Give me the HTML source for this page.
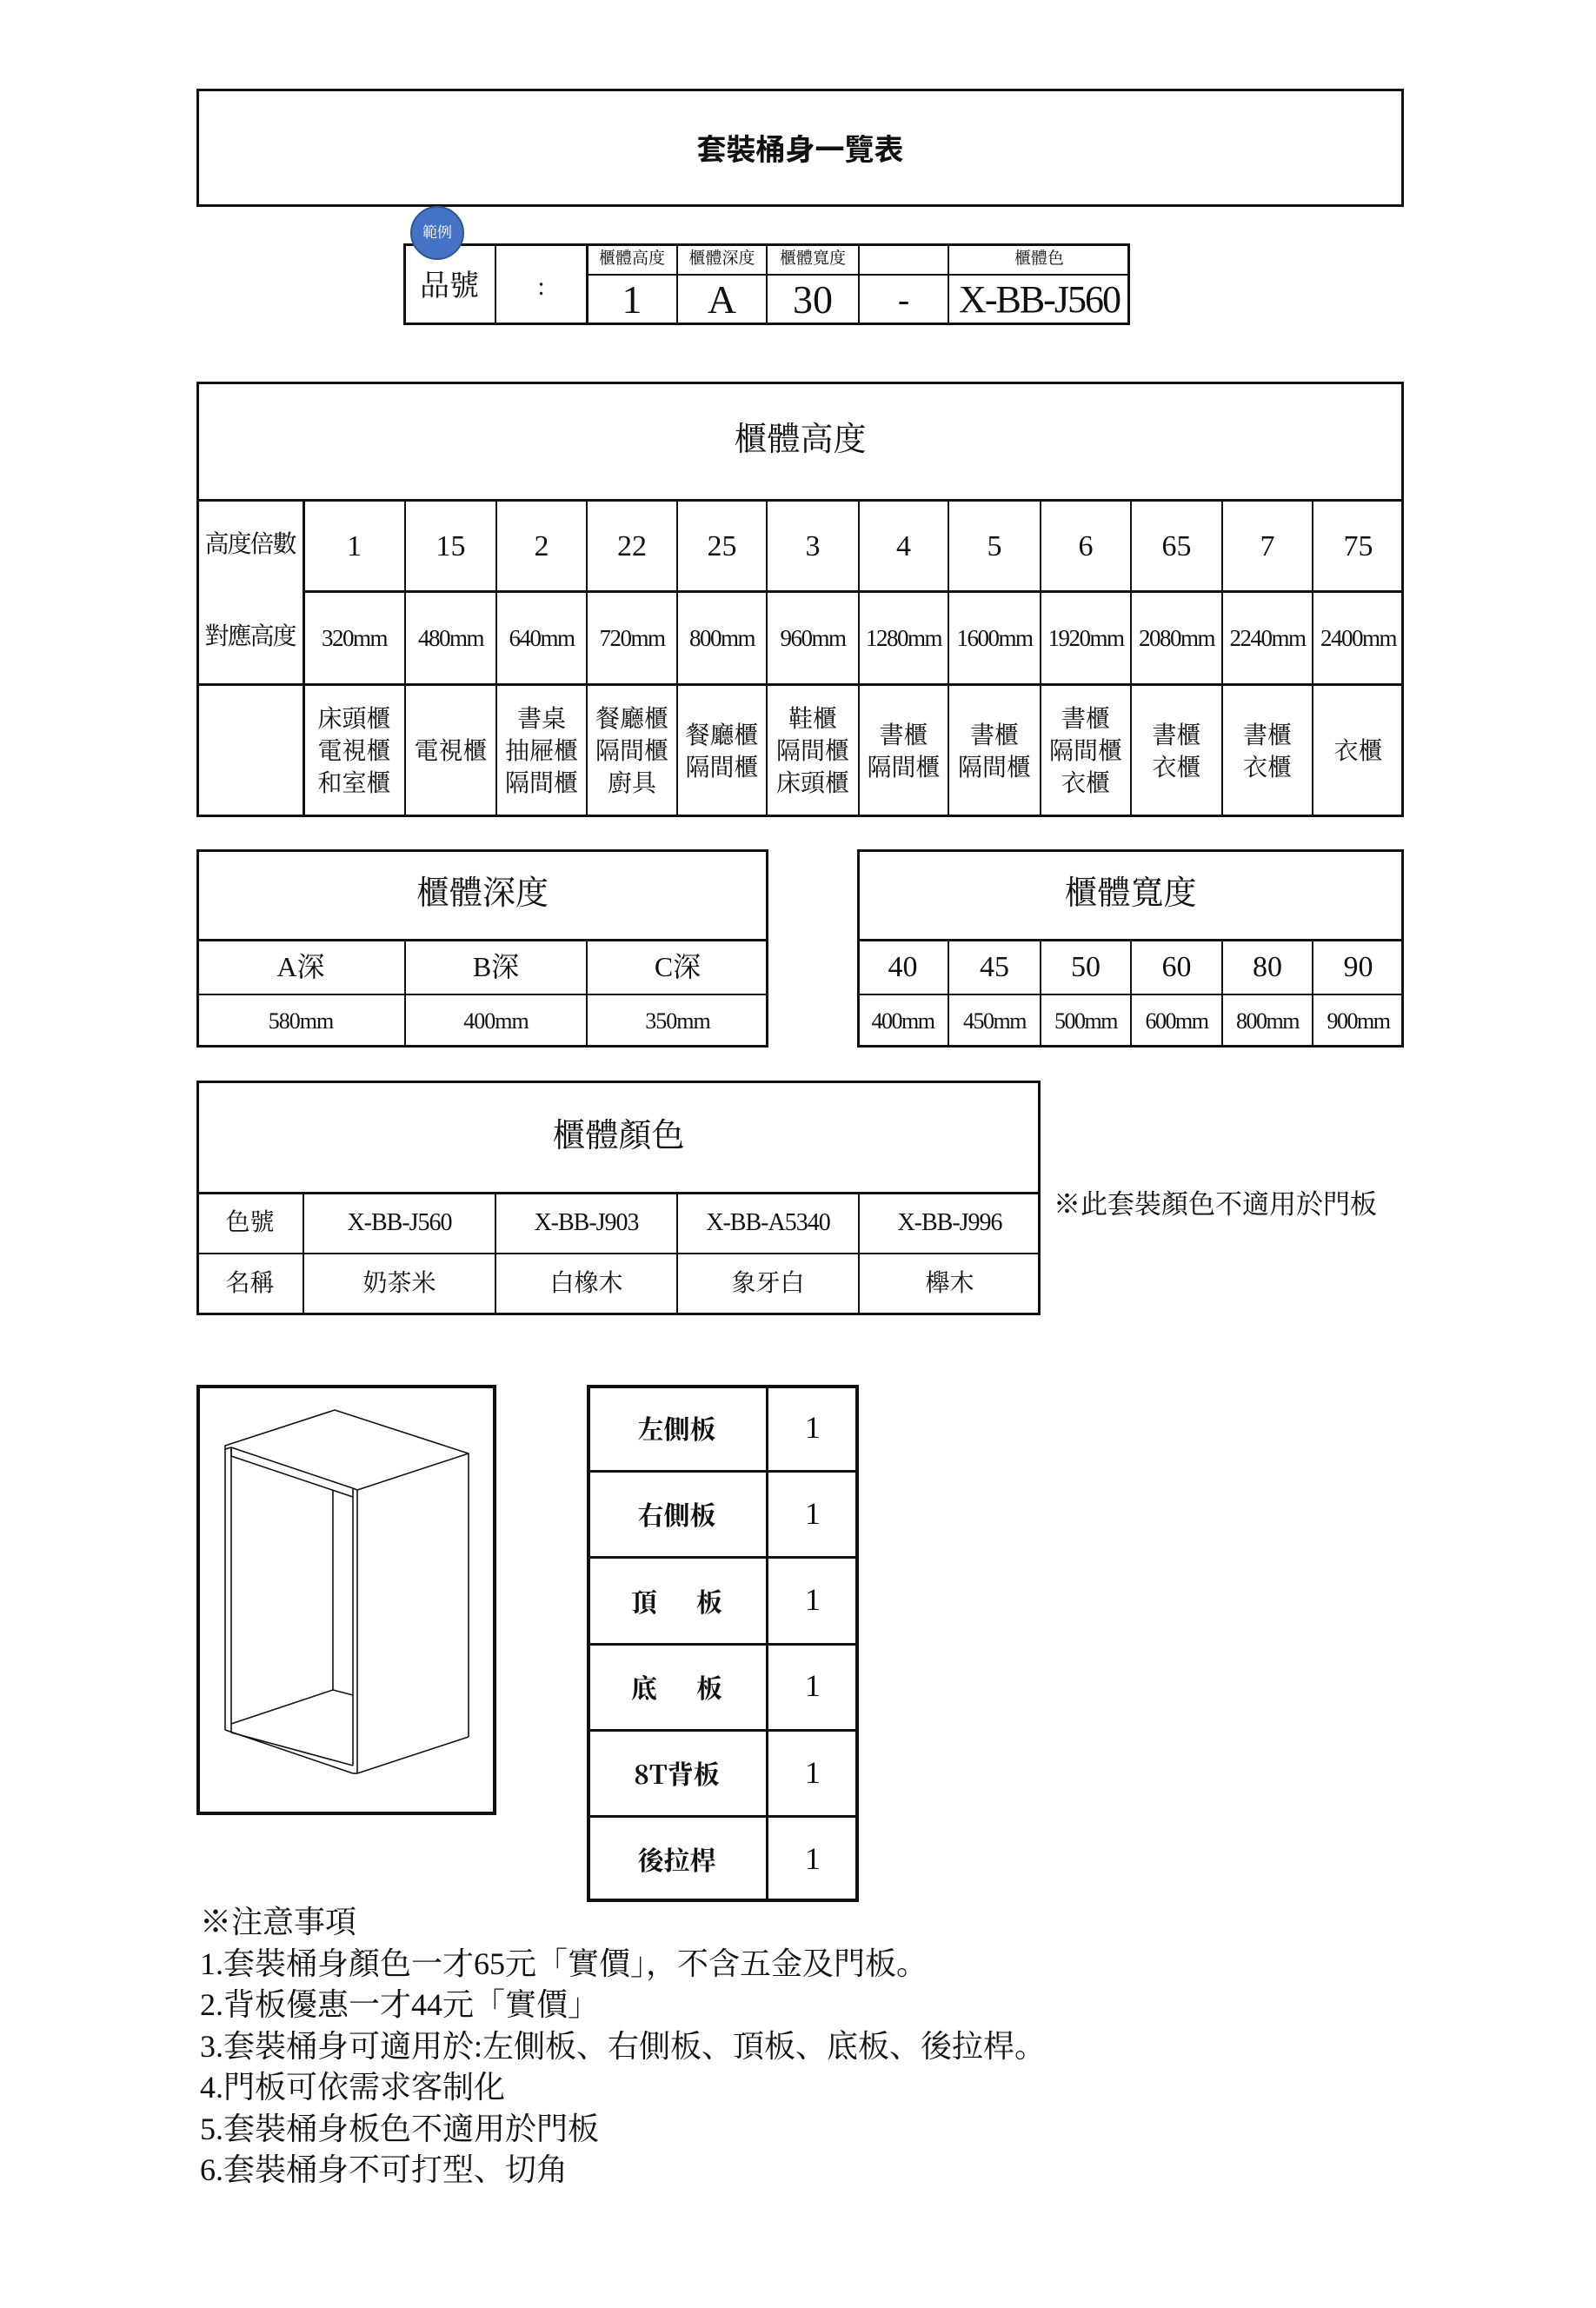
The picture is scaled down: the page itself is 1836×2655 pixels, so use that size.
<!DOCTYPE html>
<html><head><meta charset="utf-8"><style>
body{margin:0;background:#fff;}
#p{position:relative;width:1836px;height:2655px;overflow:hidden;font-family:"Liberation Serif","Noto Serif CJK SC","Noto Sans CJK TC",serif;color:#111;}
.b{position:absolute;border:3px solid #111;box-sizing:border-box;}
.t{position:absolute;display:flex;align-items:center;justify-content:center;text-align:center;box-sizing:border-box;line-height:1.15;}
.h{position:absolute;background:#111;}
.v{position:absolute;background:#111;}
</style></head><body><div id="p">
<!-- Title -->
<div class="b" style="left:226px;top:102px;width:1389px;height:136px"></div>
<div class="t" style="left:226px;top:102px;width:1389px;height:136px;font-size:34px;font-weight:bold;font-family:'Noto Sans CJK TC',sans-serif">套裝桶身一覽表</div>

<!-- example -->
<div class="b" style="left:464px;top:280px;width:836px;height:94px"></div>
<div class="h" style="left:675px;top:315px;width:625px;height:2px"></div>
<div class="v" style="left:569px;top:280px;width:2px;height:94px"></div>
<div class="v" style="left:674px;top:280px;width:3px;height:94px"></div>
<div class="v" style="left:778px;top:280px;width:2px;height:94px"></div>
<div class="v" style="left:881px;top:280px;width:2px;height:94px"></div>
<div class="v" style="left:987px;top:280px;width:2px;height:94px"></div>
<div class="v" style="left:1090px;top:280px;width:2px;height:94px"></div>
<div class="t" style="left:464px;top:295px;width:106px;height:70px;font-size:34px">品號</div>
<div class="t" style="left:570px;top:295px;width:105px;height:70px;font-size:30px">:</div>
<div class="t" style="left:675px;top:280px;width:104px;height:36px;font-size:19px">櫃體高度</div>
<div class="t" style="left:779px;top:280px;width:103px;height:36px;font-size:19px">櫃體深度</div>
<div class="t" style="left:882px;top:280px;width:106px;height:36px;font-size:19px">櫃體寬度</div>
<div class="t" style="left:1091px;top:280px;width:209px;height:36px;font-size:19px">櫃體色</div>
<div class="t" style="left:675px;top:316px;width:104px;height:58px;font-size:46px">1</div>
<div class="t" style="left:779px;top:316px;width:103px;height:58px;font-size:46px">A</div>
<div class="t" style="left:882px;top:316px;width:106px;height:58px;font-size:46px">30</div>
<div class="t" style="left:988px;top:316px;width:103px;height:58px;font-size:40px">-</div>
<div class="t" style="left:1091px;top:316px;width:209px;height:58px;font-size:44px;letter-spacing:-2px">X-BB-J560</div>
<div style="position:absolute;left:472px;top:237px;width:62px;height:62px;border-radius:50%;background:#4472C4;border:2px solid #2f5597;box-sizing:border-box"></div>
<div class="t" style="left:472px;top:237px;width:62px;height:62px;font-size:17px;color:#fff">範例</div>

<!-- height table -->
<div class="b" style="left:226px;top:439px;width:1389px;height:501px"></div>
<div class="t" style="left:226px;top:439px;width:1389px;height:136px;font-size:38px">櫃體高度</div>
<div class="h" style="left:226px;top:574px;width:1389px;height:3px"></div>
<div class="h" style="left:349px;top:679px;width:1266px;height:3px"></div>
<div class="h" style="left:226px;top:786px;width:1389px;height:3px"></div>
<div class="v" style="left:348px;top:575px;width:3px;height:365px"></div>
<div class="v" style="left:465px;top:575px;width:2px;height:365px"></div>
<div class="v" style="left:570px;top:575px;width:2px;height:365px"></div>
<div class="v" style="left:674px;top:575px;width:2px;height:365px"></div>
<div class="v" style="left:778px;top:575px;width:2px;height:365px"></div>
<div class="v" style="left:881px;top:575px;width:2px;height:365px"></div>
<div class="v" style="left:987px;top:575px;width:2px;height:365px"></div>
<div class="v" style="left:1090px;top:575px;width:2px;height:365px"></div>
<div class="v" style="left:1196px;top:575px;width:2px;height:365px"></div>
<div class="v" style="left:1300px;top:575px;width:2px;height:365px"></div>
<div class="v" style="left:1405px;top:575px;width:2px;height:365px"></div>
<div class="v" style="left:1509px;top:575px;width:2px;height:365px"></div>
<div class="t" style="left:226px;top:575px;width:123px;height:105px;font-size:28px;letter-spacing:-2px">高度倍數</div>
<div class="t" style="left:226px;top:680px;width:123px;height:107px;font-size:28px;letter-spacing:-2px">對應高度</div>
<div id="hr"></div>

<!-- depth -->
<div class="b" style="left:226px;top:977px;width:658px;height:228px"></div>
<div class="t" style="left:226px;top:977px;width:658px;height:104px;font-size:38px">櫃體深度</div>
<div class="h" style="left:226px;top:1080px;width:658px;height:3px"></div>
<div class="h" style="left:226px;top:1143px;width:658px;height:2px"></div>
<div class="v" style="left:465px;top:1081px;width:2px;height:124px"></div>
<div class="v" style="left:674px;top:1081px;width:2px;height:124px"></div>
<div class="t" style="left:226px;top:1081px;width:240px;height:63px;font-size:32px">A深</div>
<div class="t" style="left:466px;top:1081px;width:209px;height:63px;font-size:32px">B深</div>
<div class="t" style="left:675px;top:1081px;width:209px;height:63px;font-size:32px">C深</div>
<div class="t" style="left:226px;top:1144px;width:240px;height:61px;font-size:26px;letter-spacing:-1px">580mm</div>
<div class="t" style="left:466px;top:1144px;width:209px;height:61px;font-size:26px;letter-spacing:-1px">400mm</div>
<div class="t" style="left:675px;top:1144px;width:209px;height:61px;font-size:26px;letter-spacing:-1px">350mm</div>

<!-- width -->
<div class="b" style="left:986px;top:977px;width:629px;height:228px"></div>
<div class="t" style="left:986px;top:977px;width:629px;height:104px;font-size:38px">櫃體寬度</div>
<div class="h" style="left:986px;top:1080px;width:629px;height:3px"></div>
<div class="h" style="left:986px;top:1143px;width:629px;height:2px"></div>
<div id="wr"></div>

<!-- color -->
<div class="b" style="left:226px;top:1243px;width:971px;height:270px"></div>
<div class="t" style="left:226px;top:1243px;width:971px;height:129px;font-size:38px">櫃體顏色</div>
<div class="h" style="left:226px;top:1371px;width:971px;height:3px"></div>
<div class="h" style="left:226px;top:1441px;width:971px;height:2px"></div>
<div class="v" style="left:348px;top:1372px;width:2px;height:141px"></div>
<div class="v" style="left:569px;top:1372px;width:2px;height:141px"></div>
<div class="v" style="left:778px;top:1372px;width:2px;height:141px"></div>
<div class="v" style="left:987px;top:1372px;width:2px;height:141px"></div>
<div class="t" style="left:226px;top:1372px;width:123px;height:70px;font-size:28px">色號</div>
<div class="t" style="left:349px;top:1372px;width:221px;height:70px;font-size:28px;letter-spacing:-1px">X-BB-J560</div>
<div class="t" style="left:570px;top:1372px;width:209px;height:70px;font-size:28px;letter-spacing:-1px">X-BB-J903</div>
<div class="t" style="left:779px;top:1372px;width:209px;height:70px;font-size:28px;letter-spacing:-1px">X-BB-A5340</div>
<div class="t" style="left:988px;top:1372px;width:209px;height:70px;font-size:28px;letter-spacing:-1px">X-BB-J996</div>
<div class="t" style="left:226px;top:1442px;width:123px;height:71px;font-size:28px">名稱</div>
<div class="t" style="left:349px;top:1442px;width:221px;height:71px;font-size:28px">奶茶米</div>
<div class="t" style="left:570px;top:1442px;width:209px;height:71px;font-size:28px">白橡木</div>
<div class="t" style="left:779px;top:1442px;width:209px;height:71px;font-size:28px">象牙白</div>
<div class="t" style="left:988px;top:1442px;width:209px;height:71px;font-size:28px">櫸木</div>
<div style="position:absolute;left:1212px;top:1360px;font-size:31px;white-space:nowrap">※此套裝顏色不適用於門板</div>

<!-- drawing -->
<div class="b" style="left:226px;top:1593px;width:345px;height:495px;border-width:4px"></div>
<svg style="position:absolute;left:226px;top:1593px" width="345" height="495" viewBox="0 0 345 495">
<g fill="none" stroke="#111" stroke-width="1.6" stroke-linejoin="round">
<polygon points="33,70 159,29 313,79 185,121 180,119 40,72 33,74"/>
<line x1="40" y1="72" x2="40" y2="82"/>
<line x1="40" y1="82" x2="180" y2="129"/>
<line x1="180" y1="119" x2="180" y2="438"/>
<line x1="185" y1="121" x2="185" y2="447"/>
<line x1="313" y1="79" x2="313" y2="405"/>
<line x1="313" y1="405" x2="185" y2="447"/>
<line x1="33" y1="74" x2="33" y2="397"/>
<line x1="40" y1="72" x2="40" y2="400"/>
<line x1="33" y1="397" x2="180" y2="447"/>
<line x1="180" y1="447" x2="185" y2="447"/>
<line x1="40" y1="400" x2="180" y2="438"/>
<line x1="40" y1="390" x2="157" y2="351"/>
<line x1="157" y1="121" x2="157" y2="351"/>
<line x1="157" y1="351" x2="180" y2="357"/>
</g></svg>

<!-- parts -->
<div class="b" style="left:675px;top:1593px;width:313px;height:595px;border-width:4px"></div>
<div class="v" style="left:881px;top:1593px;width:3px;height:595px"></div>
<div id="pr"></div>

<!-- notes -->
<div style="position:absolute;left:230px;top:2188px;font-size:36px;line-height:47.5px;white-space:nowrap">
※注意事項<br>1.套裝桶身顏色一才65元「實價」，不含五金及門板。<br>2.背板優惠一才44元「實價」<br>3.套裝桶身可適用於:左側板、右側板、頂板、底板、後拉桿。<br>4.門板可依需求客制化<br>5.套裝桶身板色不適用於門板<br>6.套裝桶身不可打型、切角</div>
</div>
<script>
var P=document.getElementById('p');
function add(h){P.insertAdjacentHTML('beforeend',h);}
var cx=[349,466,571,675,779,882,988,1091,1197,1301,1406,1510,1615];
var n=['1','15','2','22','25','3','4','5','6','65','7','75'];
var mm=['320mm','480mm','640mm','720mm','800mm','960mm','1280mm','1600mm','1920mm','2080mm','2240mm','2400mm'];
var u=['床頭櫃<br>電視櫃<br>和室櫃','電視櫃','書桌<br>抽屜櫃<br>隔間櫃','餐廳櫃<br>隔間櫃<br>廚具','餐廳櫃<br>隔間櫃','鞋櫃<br>隔間櫃<br>床頭櫃','書櫃<br>隔間櫃','書櫃<br>隔間櫃','書櫃<br>隔間櫃<br>衣櫃','書櫃<br>衣櫃','書櫃<br>衣櫃','衣櫃'];
for(var i=0;i<12;i++){var l=cx[i],w=cx[i+1]-cx[i];
add('<div class="t" style="left:'+l+'px;top:577px;width:'+w+'px;height:103px;font-size:34px">'+n[i]+'</div>');
add('<div class="t" style="left:'+l+'px;top:682px;width:'+w+'px;height:105px;font-size:27px;letter-spacing:-1.5px">'+mm[i]+'</div>');
add('<div class="t" style="left:'+l+'px;top:789px;width:'+w+'px;height:151px;font-size:28px;line-height:37px">'+u[i]+'</div>');}
var wx=[986,1091,1197,1301,1406,1510,1615],wn=['40','45','50','60','80','90'];
for(var i=0;i<6;i++){var l=wx[i],w=wx[i+1]-wx[i];
if(i>0)add('<div class="v" style="left:'+(l-1)+'px;top:1081px;width:2px;height:124px"></div>');
add('<div class="t" style="left:'+l+'px;top:1081px;width:'+w+'px;height:63px;font-size:34px">'+wn[i]+'</div>');
add('<div class="t" style="left:'+l+'px;top:1144px;width:'+w+'px;height:61px;font-size:26px;letter-spacing:-1.5px">'+wn[i]+'0mm</div>');}
var pn=['左側板','右側板','頂&emsp;&ensp;板','底&emsp;&ensp;板','8T背板','後拉桿'];
for(var i=0;i<6;i++){var t=1593+i*99.2;
if(i>0)add('<div class="h" style="left:675px;top:'+(t-1)+'px;width:313px;height:3px"></div>');
add('<div class="t" style="left:675px;top:'+t+'px;width:207px;height:99px;font-size:30px;font-weight:bold;font-family:\'Noto Serif CJK SC\',serif">'+pn[i]+'</div>');
add('<div class="t" style="left:882px;top:'+t+'px;width:106px;height:99px;font-size:36px">1</div>');}
</script>
</body></html>
